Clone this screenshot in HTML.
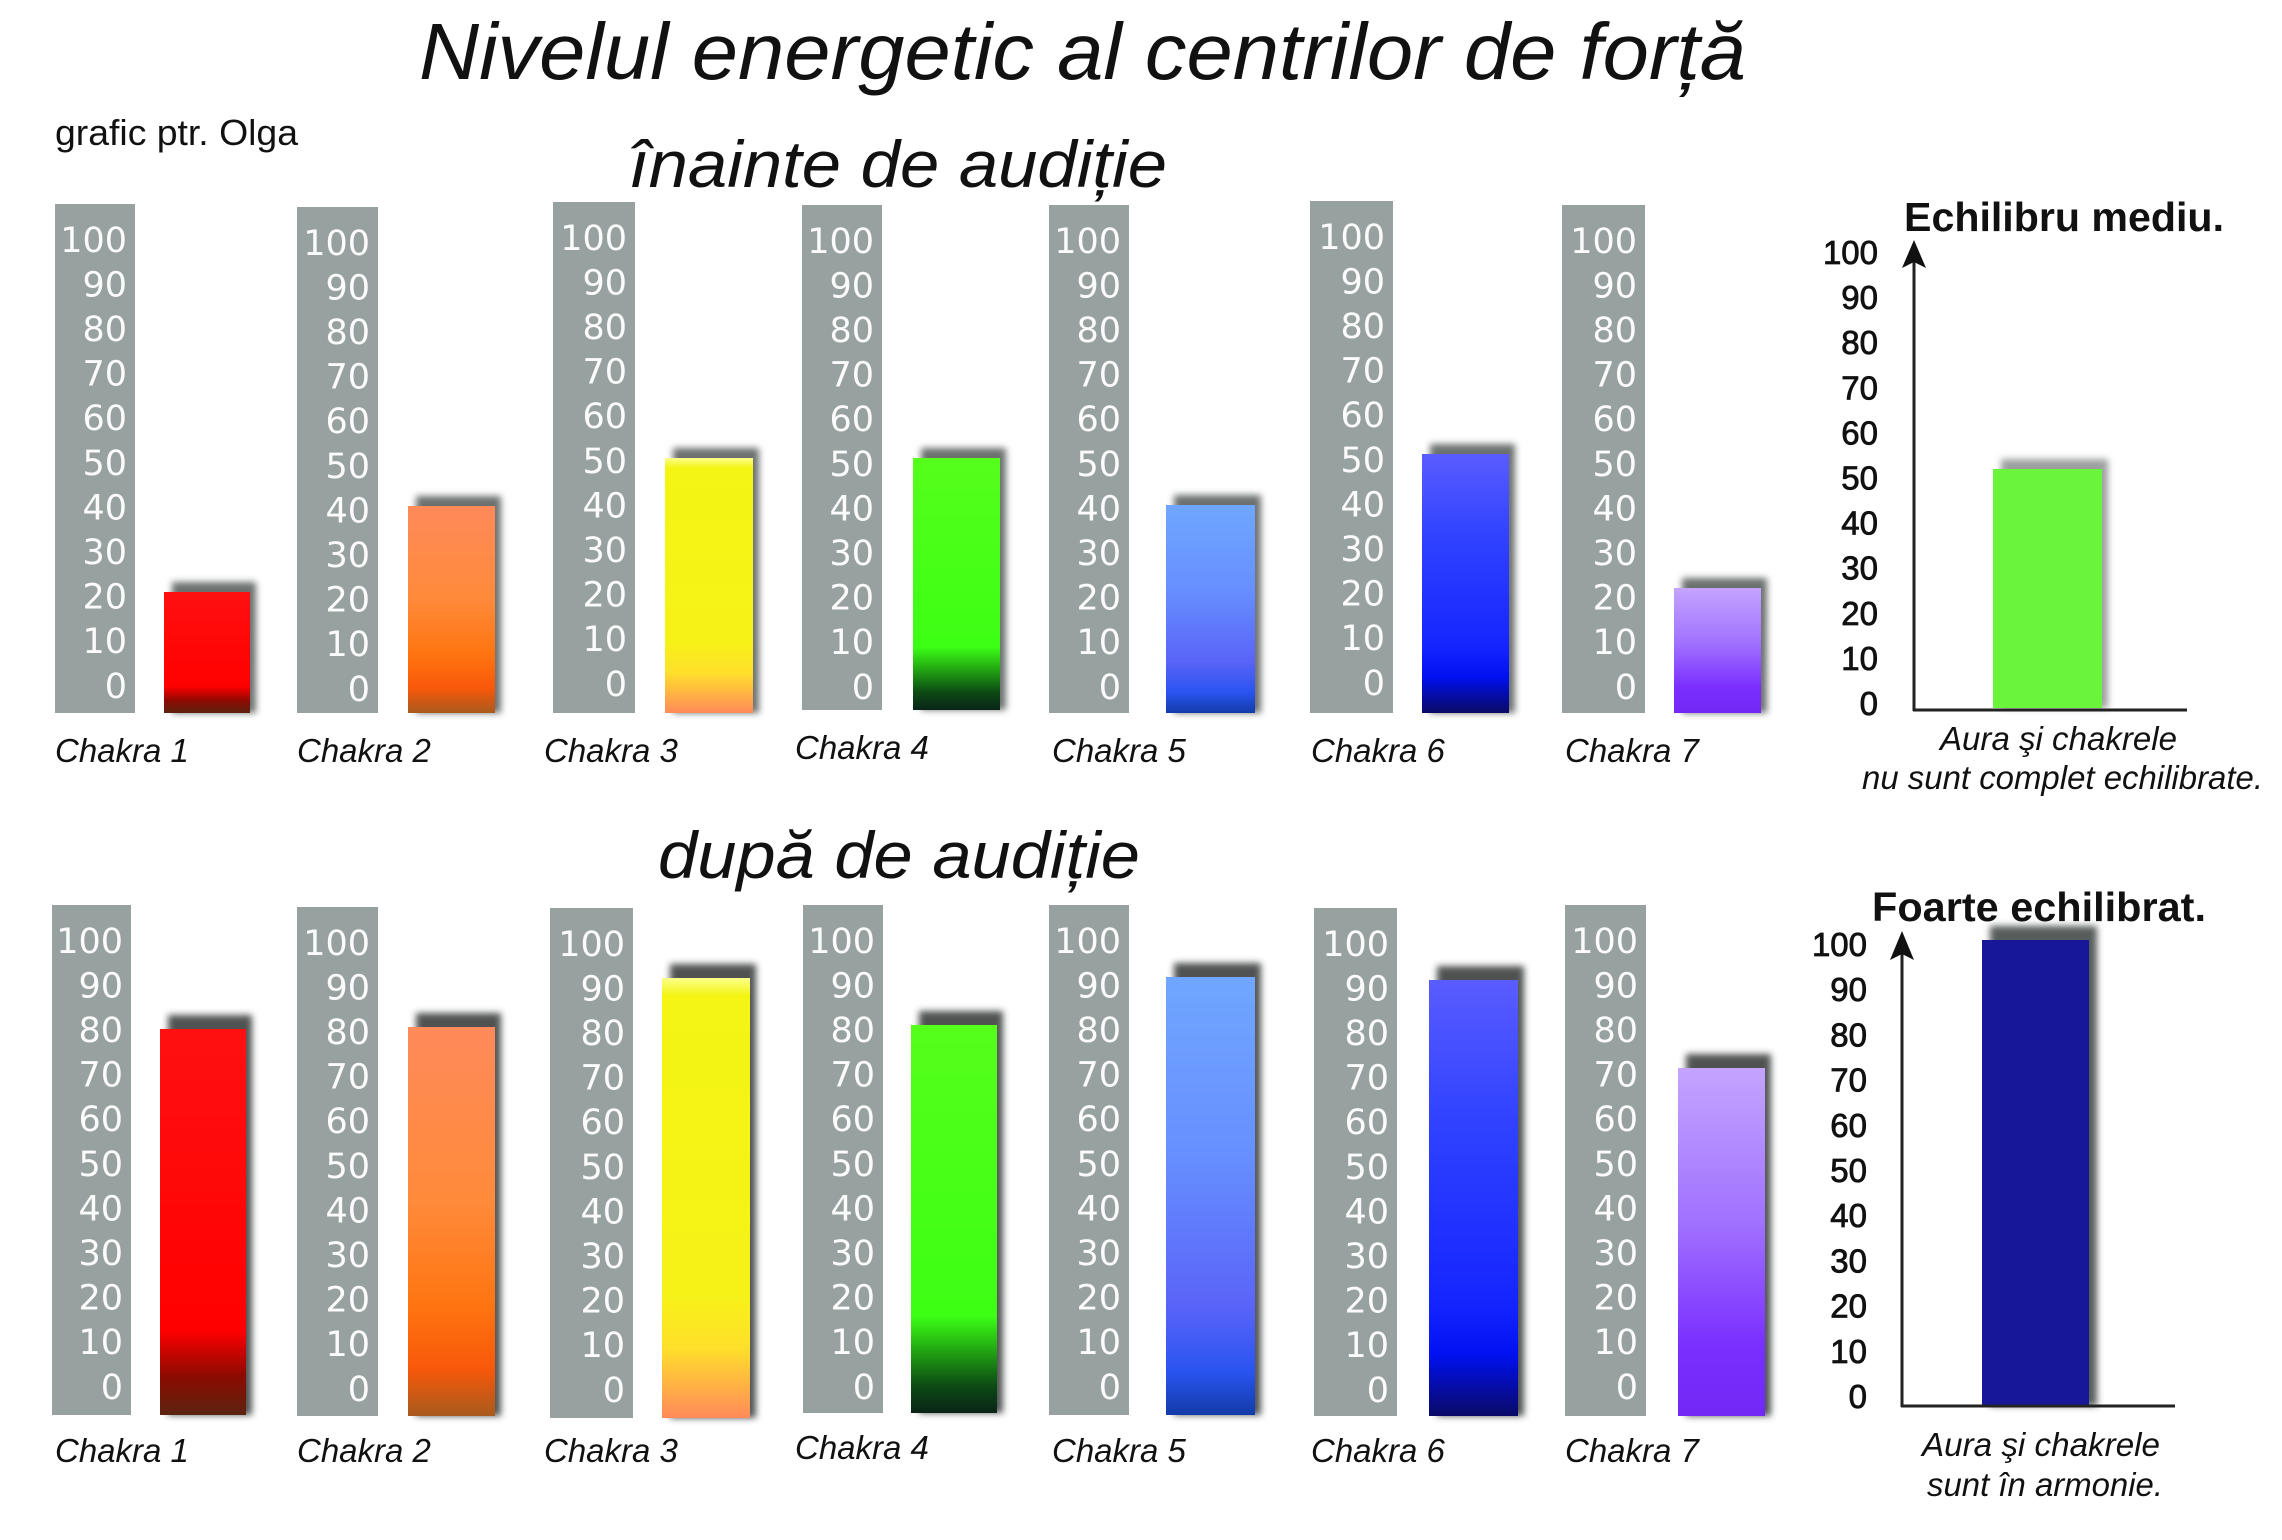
<!DOCTYPE html>
<html><head><meta charset="utf-8">
<style>
html,body{margin:0;padding:0;background:#fff;}
svg{display:block;}
.n{font-family:"DejaVu Sans","Liberation Sans",sans-serif;font-size:35px;fill:#fbfbfb;text-anchor:end;}
.ck{font-family:"Liberation Sans",sans-serif;font-style:italic;font-size:33px;fill:#111;}
.ax{font-family:"Liberation Sans",sans-serif;font-size:33px;fill:#111;stroke:#111;stroke-width:0.8;text-anchor:end;}
.it{font-family:"Liberation Sans",sans-serif;font-style:italic;fill:#111;}
.bt{font-family:"Liberation Sans",sans-serif;font-weight:bold;font-size:41px;fill:#111;}
</style></head>
<body>
<svg xmlns="http://www.w3.org/2000/svg" width="2282" height="1540" viewBox="0 0 2282 1540">
<defs>
<filter id="sh" x="-30%" y="-30%" width="160%" height="160%"><feGaussianBlur stdDeviation="3.5"/></filter>
<linearGradient id="g1" x1="0" y1="0" x2="0" y2="1"><stop offset="0" stop-color="#ff1010"/><stop offset="0.78" stop-color="#ff0000"/><stop offset="0.9" stop-color="#8c0a00"/><stop offset="1" stop-color="#5c2410"/></linearGradient>
<linearGradient id="g2" x1="0" y1="0" x2="0" y2="1"><stop offset="0" stop-color="#ff8a5a"/><stop offset="0.45" stop-color="#ff8a3a"/><stop offset="0.72" stop-color="#ff7410"/><stop offset="0.88" stop-color="#f8580a"/><stop offset="1" stop-color="#a85a1e"/></linearGradient>
<linearGradient id="g3" x1="0" y1="0" x2="0" y2="1"><stop offset="0" stop-color="#fbff8a"/><stop offset="0.04" stop-color="#f4f512"/><stop offset="0.72" stop-color="#f6f218"/><stop offset="0.84" stop-color="#ffe02a"/><stop offset="1" stop-color="#ff8a5a"/></linearGradient>
<linearGradient id="g4" x1="0" y1="0" x2="0" y2="1"><stop offset="0" stop-color="#55ff1a"/><stop offset="0.75" stop-color="#3cff14"/><stop offset="0.85" stop-color="#1e9a12"/><stop offset="0.93" stop-color="#0c4a14"/><stop offset="1" stop-color="#0a2418"/></linearGradient>
<linearGradient id="g5" x1="0" y1="0" x2="0" y2="1"><stop offset="0" stop-color="#70a6ff"/><stop offset="0.4" stop-color="#6690ff"/><stop offset="0.75" stop-color="#5a64f8"/><stop offset="0.9" stop-color="#2a54f0"/><stop offset="1" stop-color="#123ca8"/></linearGradient>
<linearGradient id="g6" x1="0" y1="0" x2="0" y2="1"><stop offset="0" stop-color="#5a5cff"/><stop offset="0.3" stop-color="#3244ff"/><stop offset="0.75" stop-color="#1424ff"/><stop offset="0.86" stop-color="#0010f0"/><stop offset="1" stop-color="#0a0a66"/></linearGradient>
<linearGradient id="g7" x1="0" y1="0" x2="0" y2="1"><stop offset="0" stop-color="#c4a4ff"/><stop offset="0.45" stop-color="#a070ff"/><stop offset="0.8" stop-color="#7a2eff"/><stop offset="1" stop-color="#7428f6"/></linearGradient>
</defs>

<!-- Titles -->
<text class="it" x="419" y="79" font-size="80" textLength="1327" lengthAdjust="spacingAndGlyphs">Nivelul energetic al centrilor de forță</text>
<text x="55" y="145" font-family="Liberation Sans, sans-serif" font-size="36" fill="#111" textLength="243" lengthAdjust="spacingAndGlyphs">grafic ptr. Olga</text>
<text class="it" x="629" y="187" font-size="66" textLength="538" lengthAdjust="spacingAndGlyphs">înainte de audiție</text>
<text class="it" x="658" y="878" font-size="66" textLength="482" lengthAdjust="spacingAndGlyphs">după de audiție</text>

<!-- ===== TOP ROW columns ===== -->
<g fill="#97a19f">
<rect x="55" y="204" width="80" height="509"/>
<rect x="297" y="207" width="81" height="506"/>
<rect x="553" y="202" width="82" height="511"/>
<rect x="802" y="205" width="80" height="505"/>
<rect x="1049" y="205" width="80" height="508"/>
<rect x="1310" y="201" width="83" height="512"/>
<rect x="1562" y="205" width="83" height="508"/>
</g>

<g class="n" transform="translate(127,251.8)"><text y="0">100</text><text y="44.6">90</text><text y="89.2">80</text><text y="133.8">70</text><text y="178.4">60</text><text y="223">50</text><text y="267.6">40</text><text y="312.2">30</text><text y="356.8">20</text><text y="401.4">10</text><text y="446">0</text></g>
<g class="n" transform="translate(370,254.8)"><text y="0">100</text><text y="44.6">90</text><text y="89.2">80</text><text y="133.8">70</text><text y="178.4">60</text><text y="223">50</text><text y="267.6">40</text><text y="312.2">30</text><text y="356.8">20</text><text y="401.4">10</text><text y="446">0</text></g>
<g class="n" transform="translate(627,249.8)"><text y="0">100</text><text y="44.6">90</text><text y="89.2">80</text><text y="133.8">70</text><text y="178.4">60</text><text y="223">50</text><text y="267.6">40</text><text y="312.2">30</text><text y="356.8">20</text><text y="401.4">10</text><text y="446">0</text></g>
<g class="n" transform="translate(874,252.8)"><text y="0">100</text><text y="44.6">90</text><text y="89.2">80</text><text y="133.8">70</text><text y="178.4">60</text><text y="223">50</text><text y="267.6">40</text><text y="312.2">30</text><text y="356.8">20</text><text y="401.4">10</text><text y="446">0</text></g>
<g class="n" transform="translate(1121,252.8)"><text y="0">100</text><text y="44.6">90</text><text y="89.2">80</text><text y="133.8">70</text><text y="178.4">60</text><text y="223">50</text><text y="267.6">40</text><text y="312.2">30</text><text y="356.8">20</text><text y="401.4">10</text><text y="446">0</text></g>
<g class="n" transform="translate(1385,248.8)"><text y="0">100</text><text y="44.6">90</text><text y="89.2">80</text><text y="133.8">70</text><text y="178.4">60</text><text y="223">50</text><text y="267.6">40</text><text y="312.2">30</text><text y="356.8">20</text><text y="401.4">10</text><text y="446">0</text></g>
<g class="n" transform="translate(1637,252.8)"><text y="0">100</text><text y="44.6">90</text><text y="89.2">80</text><text y="133.8">70</text><text y="178.4">60</text><text y="223">50</text><text y="267.6">40</text><text y="312.2">30</text><text y="356.8">20</text><text y="401.4">10</text><text y="446">0</text></g>

<!-- top row bar shadows -->
<g fill="#3b4240" opacity="0.75" filter="url(#sh)">
<rect x="172" y="582" width="84" height="131"/>
<rect x="416" y="496" width="85" height="217"/>
<rect x="673" y="448" width="86" height="265"/>
<rect x="921" y="448" width="85" height="262"/>
<rect x="1174" y="495" width="87" height="218"/>
<rect x="1430" y="444" width="85" height="269"/>
<rect x="1682" y="578" width="85" height="135"/>
</g>
<!-- top row bars -->
<rect x="164" y="592" width="86" height="121" fill="url(#g1)"/>
<rect x="408" y="506" width="87" height="207" fill="url(#g2)"/>
<rect x="665" y="458" width="88" height="255" fill="url(#g3)"/>
<rect x="913" y="458" width="87" height="252" fill="url(#g4)"/>
<rect x="1166" y="505" width="89" height="208" fill="url(#g5)"/>
<rect x="1422" y="454" width="87" height="259" fill="url(#g6)"/>
<rect x="1674" y="588" width="87" height="125" fill="url(#g7)"/>

<g class="ck">
<text x="55" y="762">Chakra 1</text>
<text x="297" y="762">Chakra 2</text>
<text x="544" y="762">Chakra 3</text>
<text x="795" y="759">Chakra 4</text>
<text x="1052" y="762">Chakra 5</text>
<text x="1311" y="762">Chakra 6</text>
<text x="1565" y="762">Chakra 7</text>
</g>

<!-- ===== BOTTOM ROW columns ===== -->
<g fill="#97a19f">
<rect x="52" y="905" width="79" height="510"/>
<rect x="297" y="907" width="81" height="509"/>
<rect x="550" y="908" width="83" height="510"/>
<rect x="803" y="905" width="80" height="508"/>
<rect x="1049" y="905" width="80" height="510"/>
<rect x="1314" y="908" width="83" height="508"/>
<rect x="1565" y="905" width="81" height="511"/>
</g>

<g class="n" transform="translate(123,952.8)"><text y="0">100</text><text y="44.6">90</text><text y="89.2">80</text><text y="133.8">70</text><text y="178.4">60</text><text y="223">50</text><text y="267.6">40</text><text y="312.2">30</text><text y="356.8">20</text><text y="401.4">10</text><text y="446">0</text></g>
<g class="n" transform="translate(370,954.8)"><text y="0">100</text><text y="44.6">90</text><text y="89.2">80</text><text y="133.8">70</text><text y="178.4">60</text><text y="223">50</text><text y="267.6">40</text><text y="312.2">30</text><text y="356.8">20</text><text y="401.4">10</text><text y="446">0</text></g>
<g class="n" transform="translate(625,955.8)"><text y="0">100</text><text y="44.6">90</text><text y="89.2">80</text><text y="133.8">70</text><text y="178.4">60</text><text y="223">50</text><text y="267.6">40</text><text y="312.2">30</text><text y="356.8">20</text><text y="401.4">10</text><text y="446">0</text></g>
<g class="n" transform="translate(875,952.8)"><text y="0">100</text><text y="44.6">90</text><text y="89.2">80</text><text y="133.8">70</text><text y="178.4">60</text><text y="223">50</text><text y="267.6">40</text><text y="312.2">30</text><text y="356.8">20</text><text y="401.4">10</text><text y="446">0</text></g>
<g class="n" transform="translate(1121,952.8)"><text y="0">100</text><text y="44.6">90</text><text y="89.2">80</text><text y="133.8">70</text><text y="178.4">60</text><text y="223">50</text><text y="267.6">40</text><text y="312.2">30</text><text y="356.8">20</text><text y="401.4">10</text><text y="446">0</text></g>
<g class="n" transform="translate(1389,955.8)"><text y="0">100</text><text y="44.6">90</text><text y="89.2">80</text><text y="133.8">70</text><text y="178.4">60</text><text y="223">50</text><text y="267.6">40</text><text y="312.2">30</text><text y="356.8">20</text><text y="401.4">10</text><text y="446">0</text></g>
<g class="n" transform="translate(1638,952.8)"><text y="0">100</text><text y="44.6">90</text><text y="89.2">80</text><text y="133.8">70</text><text y="178.4">60</text><text y="223">50</text><text y="267.6">40</text><text y="312.2">30</text><text y="356.8">20</text><text y="401.4">10</text><text y="446">0</text></g>

<!-- bottom row bar shadows -->
<g fill="#303634" opacity="0.85" filter="url(#sh)">
<rect x="168" y="1015" width="84" height="400"/>
<rect x="416" y="1013" width="85" height="403"/>
<rect x="670" y="964" width="86" height="454"/>
<rect x="919" y="1011" width="84" height="402"/>
<rect x="1174" y="963" width="87" height="452"/>
<rect x="1437" y="966" width="87" height="450"/>
<rect x="1686" y="1054" width="85" height="362"/>
</g>
<!-- bottom row bars -->
<rect x="160" y="1029" width="86" height="386" fill="url(#g1)"/>
<rect x="408" y="1027" width="87" height="389" fill="url(#g2)"/>
<rect x="662" y="978" width="88" height="440" fill="url(#g3)"/>
<rect x="911" y="1025" width="86" height="388" fill="url(#g4)"/>
<rect x="1166" y="977" width="89" height="438" fill="url(#g5)"/>
<rect x="1429" y="980" width="89" height="436" fill="url(#g6)"/>
<rect x="1678" y="1068" width="87" height="348" fill="url(#g7)"/>

<g class="ck">
<text x="55" y="1462">Chakra 1</text>
<text x="297" y="1462">Chakra 2</text>
<text x="544" y="1462">Chakra 3</text>
<text x="795" y="1459">Chakra 4</text>
<text x="1052" y="1462">Chakra 5</text>
<text x="1311" y="1462">Chakra 6</text>
<text x="1565" y="1462">Chakra 7</text>
</g>

<!-- ===== Right chart 1 ===== -->
<text class="bt" x="1904" y="231" textLength="320" lengthAdjust="spacingAndGlyphs">Echilibru mediu.</text>
<g class="ax">
<text x="1878" y="264">100</text><text x="1878" y="309.1">90</text><text x="1878" y="354.2">80</text><text x="1878" y="399.3">70</text><text x="1878" y="444.4">60</text><text x="1878" y="489.5">50</text><text x="1878" y="534.6">40</text><text x="1878" y="579.7">30</text><text x="1878" y="624.8">20</text><text x="1878" y="669.9">10</text><text x="1878" y="715">0</text>
</g>
<rect x="2001" y="459" width="107" height="249" fill="#5a605e" opacity="0.6" filter="url(#sh)"/>
<rect x="1993" y="469" width="109" height="239" fill="#6af53c"/>
<line x1="1914" y1="258" x2="1914" y2="711" stroke="#222" stroke-width="3"/>
<line x1="1913" y1="710" x2="2187" y2="710" stroke="#222" stroke-width="3"/>
<polygon points="1914,240 1902,268 1914,262 1926,268" fill="#111"/>
<text class="it" x="1940" y="750" font-size="33" textLength="237" lengthAdjust="spacingAndGlyphs">Aura şi chakrele</text>
<text class="it" x="1862" y="789" font-size="33" textLength="401" lengthAdjust="spacingAndGlyphs">nu sunt complet echilibrate.</text>

<!-- ===== Right chart 2 ===== -->
<text class="bt" x="1872" y="921" textLength="334" lengthAdjust="spacingAndGlyphs">Foarte echilibrat.</text>
<g class="ax">
<text x="1867" y="956">100</text><text x="1867" y="1001.2">90</text><text x="1867" y="1046.4">80</text><text x="1867" y="1091.6">70</text><text x="1867" y="1136.8">60</text><text x="1867" y="1182">50</text><text x="1867" y="1227.2">40</text><text x="1867" y="1272.4">30</text><text x="1867" y="1317.6">20</text><text x="1867" y="1362.8">10</text><text x="1867" y="1408">0</text>
</g>
<rect x="1990" y="926" width="107" height="480" fill="#2e3432" opacity="0.8" filter="url(#sh)"/>
<rect x="1982" y="940" width="107" height="466" fill="#171799"/>
<line x1="1902" y1="950" x2="1902" y2="1407" stroke="#222" stroke-width="3"/>
<line x1="1901" y1="1406" x2="2175" y2="1406" stroke="#222" stroke-width="3"/>
<polygon points="1902,931 1890,960 1902,954 1914,960" fill="#111"/>
<text class="it" x="1922" y="1456" font-size="33" textLength="238" lengthAdjust="spacingAndGlyphs">Aura şi chakrele</text>
<text class="it" x="1927" y="1496" font-size="33" textLength="236" lengthAdjust="spacingAndGlyphs">sunt în armonie.</text>
</svg>
</body></html>
